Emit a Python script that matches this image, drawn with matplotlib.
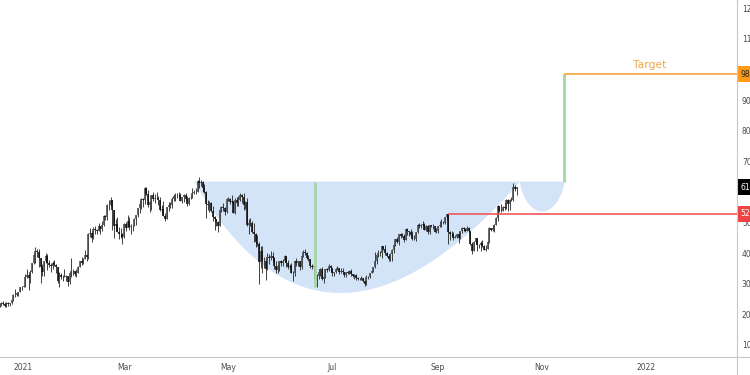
import numpy as np
import matplotlib
matplotlib.use("Agg")
import matplotlib.pyplot as plt
import matplotlib.dates as mdates
from matplotlib.transforms import blended_transform_factory
from matplotlib.lines import Line2D

# ---------------- data (BTC daily, values in thousands USD) ----------------
start_date = "2020-12-18"
first_open = 22.8

close_k = [
    23.15, 23.87, 23.48, 22.74, 23.82, 23.25, 23.73, 24.71, 26.49, 26.28, 27.08, 27.36, 28.84, 29.00,
    29.37, 32.13, 32.78, 31.97, 33.99, 36.82, 39.37, 40.80, 40.25, 38.35, 35.56, 33.92, 37.32, 39.19, 36.83, 36.18,
    35.79, 36.63, 36.07, 35.55, 30.83, 33.01, 32.10, 32.29, 32.37, 32.57, 30.43, 33.47, 34.32, 34.27, 33.11,
    33.52, 35.51, 37.47, 36.93, 38.14, 39.27, 38.83, 46.37, 46.48, 44.92, 47.91, 47.50, 47.17, 48.72,
    47.94, 49.20, 52.15, 51.68, 55.89, 55.89, 57.41, 54.09, 48.89, 49.68, 47.07, 46.28, 46.11, 45.14,
    49.63, 48.38, 50.54, 48.56, 48.93, 48.91, 51.21, 52.38, 54.88, 56.00, 57.77, 57.33, 61.24, 59.30, 55.90,
    56.80, 58.91, 57.65, 58.03, 58.10, 57.35, 54.08, 54.34, 52.30, 51.30, 55.00, 55.84, 55.78, 57.60, 58.76, 58.92,
    59.10, 59.00, 57.10, 58.20, 59.10, 57.60, 56.00, 58.10, 58.10, 59.80, 60.00, 59.90, 63.50, 62.97, 63.20,
    61.40, 60.10, 56.20, 55.70, 56.50, 53.80, 51.70, 51.10, 50.10, 49.00, 54.00, 55.00, 54.90, 53.60, 57.70,
    57.80, 56.60, 57.20, 53.20, 57.40, 56.40, 57.30, 58.90, 58.20, 55.80, 56.70, 49.20, 49.70, 49.90, 46.80,
    46.40, 43.60, 42.90, 37.00, 40.80, 37.30, 37.50, 34.70, 38.80, 38.30, 39.20, 38.50, 35.70, 34.60, 35.70, 37.30,
    36.70, 37.60, 39.20, 36.90, 35.50, 35.80, 33.60, 33.40, 37.40, 36.70, 37.30, 35.55, 39.10, 40.50, 40.15,
    38.35, 38.10, 35.80, 35.60, 35.70, 31.60, 32.50, 33.70, 34.70, 31.60, 32.30, 34.70, 34.50, 35.90, 35.00,
    33.50, 33.80, 34.70, 35.30, 33.70, 34.20, 33.90, 32.90, 33.80, 33.50, 34.30, 33.10, 32.70, 32.80, 31.80,
    31.40, 31.50, 31.80, 30.80, 29.80, 32.10, 32.30, 33.60, 34.30, 35.40, 37.30, 39.40, 39.90, 40.00, 42.20, 41.50,
    39.90, 39.20, 38.20, 39.70, 40.90, 42.80, 44.60, 43.80, 46.30, 45.60, 45.60, 44.40, 47.80, 47.10, 47.00,
    45.90, 44.70, 44.70, 46.80, 49.30, 48.90, 49.30, 49.50, 47.70, 48.90, 46.90, 49.10, 48.90, 48.80, 47.00, 47.10,
    48.80, 49.30, 50.00, 49.90, 51.80, 52.70, 46.90, 46.10, 46.40, 44.90, 45.20, 46.10, 44.90, 47.10, 48.20,
    47.80, 47.30, 48.30, 47.30, 43.00, 40.70, 43.60, 44.90, 42.80, 42.70, 43.20, 42.20, 41.00, 41.50, 43.80,
    48.10, 47.70, 48.20, 49.20, 51.50, 55.30, 53.80, 53.90, 55.00, 54.70, 57.50, 56.00, 57.40, 57.30, 61.70,
    60.90, 61.50,
]
high_k = [
    23.30, 24.10, 24.30, 24.10, 23.90, 24.10, 23.80, 24.80, 26.80, 28.40, 27.40, 27.40, 28.90, 29.30,
    29.60, 33.30, 34.80, 33.60, 34.40, 36.90, 40.20, 41.90, 41.40, 41.30, 38.30, 36.60, 37.60, 40.00, 39.70, 37.80,
    36.90, 37.30, 37.80, 36.40, 35.60, 33.80, 33.60, 32.90, 34.80, 32.80, 32.60, 33.80, 38.40, 34.80, 34.30,
    34.70, 35.90, 37.50, 38.60, 38.30, 40.90, 39.70, 46.50, 48.10, 47.30, 48.50, 48.90, 48.00, 49.70,
    49.00, 50.60, 52.60, 52.50, 56.20, 57.50, 58.30, 57.50, 54.20, 51.30, 51.90, 48.40, 48.30, 46.60,
    49.80, 50.10, 52.60, 51.80, 49.40, 49.20, 51.50, 52.40, 54.90, 57.20, 58.10, 58.00, 61.70, 61.60, 60.60,
    56.90, 58.90, 60.10, 59.40, 59.90, 58.60, 58.40, 55.80, 57.00, 53.10, 55.00, 56.60, 56.60, 58.40, 59.40, 59.80,
    59.50, 60.00, 59.80, 58.50, 59.30, 59.50, 58.70, 58.20, 58.90, 61.20, 60.70, 61.20, 63.80, 64.90, 63.80,
    63.50, 62.50, 60.40, 57.50, 57.00, 56.80, 55.40, 52.10, 51.20, 50.50, 54.40, 55.50, 56.40, 55.20, 57.90,
    58.40, 57.90, 58.90, 57.20, 57.90, 58.30, 58.60, 59.50, 59.20, 59.50, 57.00, 57.90, 51.30, 51.40, 50.60,
    49.70, 46.60, 45.80, 43.50, 42.50, 42.20, 38.80, 38.30, 39.90, 39.80, 40.80, 40.40, 38.90, 37.30, 36.40, 37.50,
    37.90, 38.20, 39.50, 39.20, 37.90, 36.40, 36.80, 34.10, 37.50, 38.40, 37.60, 37.40, 39.30, 41.00, 41.30,
    40.50, 39.50, 38.20, 36.40, 36.10, 35.80, 33.30, 34.80, 35.20, 35.50, 32.60, 34.70, 35.30, 36.60, 36.00,
    35.00, 33.90, 34.90, 35.90, 35.30, 35.00, 35.00, 33.90, 34.00, 34.20, 34.60, 34.70, 33.30, 33.10, 33.20,
    32.20, 31.90, 32.40, 31.80, 31.00, 32.80, 32.60, 33.60, 34.50, 35.40, 40.50, 39.50, 40.90, 40.60, 42.30, 42.40,
    42.60, 40.40, 39.80, 39.90, 41.40, 43.00, 44.70, 45.30, 46.40, 46.60, 46.70, 46.20, 47.90, 48.10, 47.40,
    48.00, 47.10, 46.00, 47.00, 49.40, 49.70, 49.50, 50.50, 49.80, 49.20, 49.30, 49.20, 49.30, 49.60, 48.90, 48.20,
    49.00, 50.40, 51.00, 50.50, 51.90, 52.80, 52.90, 47.30, 47.30, 47.00, 45.90, 46.40, 46.90, 47.30, 48.50,
    48.50, 48.20, 48.80, 48.40, 47.40, 43.60, 44.00, 44.90, 45.00, 42.90, 43.90, 44.40, 42.80, 42.60, 44.10,
    48.40, 48.30, 49.30, 49.50, 51.90, 55.70, 55.30, 56.10, 55.40, 56.50, 57.80, 57.60, 57.60, 58.50, 62.90,
    62.30, 61.70,
]
low_k = [
    22.40, 22.80, 23.10, 22.40, 22.40, 22.70, 22.80, 23.40, 24.50, 25.80, 26.10, 25.90, 27.30, 28.00,
    28.80, 29.00, 32.00, 28.10, 30.20, 33.50, 36.50, 36.80, 38.70, 35.50, 30.40, 32.50, 32.60, 36.70, 34.40, 35.40,
    33.90, 34.90, 35.80, 33.40, 30.10, 28.90, 31.40, 31.00, 32.10, 30.80, 29.20, 30.00, 32.10, 32.90, 32.40,
    32.30, 33.40, 35.40, 36.20, 36.60, 38.20, 37.40, 38.10, 45.20, 43.80, 44.50, 46.40, 46.30, 47.10,
    46.30, 47.10, 48.90, 50.90, 50.70, 54.00, 55.50, 47.70, 45.00, 47.10, 47.00, 44.50, 45.10, 43.00,
    45.10, 47.10, 48.40, 47.60, 46.30, 47.10, 48.90, 49.30, 51.90, 53.10, 54.30, 55.00, 56.10, 59.10, 55.00,
    53.60, 54.20, 57.00, 56.30, 57.90, 55.60, 53.70, 53.00, 52.00, 50.40, 51.30, 53.90, 54.70, 54.90, 57.00, 57.00,
    58.00, 58.50, 57.00, 56.50, 56.80, 57.30, 55.50, 55.80, 57.80, 58.00, 59.30, 59.40, 59.90, 61.30, 62.00,
    60.00, 59.80, 51.50, 54.20, 53.40, 53.60, 50.60, 47.50, 48.80, 47.00, 48.80, 53.30, 53.90, 52.40, 53.10,
    57.00, 56.10, 56.50, 53.00, 52.90, 55.30, 55.40, 56.90, 56.30, 54.00, 54.30, 48.80, 46.30, 48.90, 46.60,
    43.80, 42.00, 42.30, 30.00, 35.00, 33.50, 35.30, 31.10, 34.40, 36.40, 37.80, 37.20, 34.70, 33.60, 33.40, 34.20,
    35.70, 35.90, 37.20, 35.60, 34.80, 35.30, 33.40, 31.00, 32.40, 35.80, 35.90, 34.60, 34.80, 38.70, 39.50,
    38.10, 37.40, 35.20, 34.80, 33.30, 31.30, 28.80, 31.70, 32.40, 31.30, 30.20, 32.00, 33.90, 34.30, 34.00,
    32.70, 32.70, 33.40, 34.40, 33.20, 33.50, 33.80, 32.10, 32.30, 33.10, 33.30, 32.70, 32.30, 31.60, 31.20,
    31.10, 31.20, 31.10, 30.50, 29.30, 29.50, 31.70, 31.90, 33.40, 33.90, 35.30, 36.40, 38.80, 39.20, 38.30, 41.00,
    39.40, 38.70, 37.60, 37.50, 37.30, 39.90, 42.50, 43.40, 42.80, 45.10, 45.30, 43.80, 44.30, 45.90, 45.60,
    45.60, 44.40, 44.20, 43.90, 46.60, 48.30, 48.10, 49.00, 47.60, 47.20, 46.40, 46.40, 48.40, 48.00, 46.90, 46.70,
    46.50, 48.60, 48.40, 49.50, 49.50, 50.90, 43.00, 44.40, 45.50, 44.20, 44.80, 44.80, 43.40, 44.70, 46.70,
    47.10, 46.80, 47.10, 46.90, 42.60, 39.60, 40.60, 43.10, 40.80, 41.70, 40.80, 42.10, 40.90, 40.80, 41.40,
    43.30, 47.40, 47.20, 46.90, 49.10, 50.40, 53.40, 53.60, 53.70, 54.10, 54.40, 53.90, 54.20, 56.90, 56.90,
    60.20, 58.90,
]

# price lines / annotations (USD)
y_ticks = [10000, 20000, 30000, 40000, 50000, 60000, 70000, 80000, 90000, 100000, 110000, 120000]
x_tick_dates = ["2021-01-01", "2021-03-01", "2021-05-01", "2021-07-01", "2021-09-01", "2021-11-01", "2022-01-01"]
x_tick_labels = ["2021", "Mar", "May", "Jul", "Sep", "Nov", "2022"]

cup_left, cup_ctrl_date, cup_right = "2021-04-11", "2021-06-26", "2021-10-19"
cup_rim, cup_ctrl_price = 63400, -9400
handle_end, handle_bottom = "2021-11-14", 53600
depth_line_date, depth_low = "2021-06-21", 28800
target_date, target_price = "2021-11-14", 98500
resistance_date, resistance_price = "2021-09-07", 52900
target_text_date, target_text_price = "2022-01-03", 101500

# ---------------- figure ----------------
W, H = 750, 375
fig = plt.figure(figsize=(W / 100, H / 100), dpi=100)
ax_bottom_px, ax_right_px = 357, 737
ax = fig.add_axes([0, (H - ax_bottom_px) / H, ax_right_px / W, ax_bottom_px / H])

d2n = lambda s: mdates.date2num(np.datetime64(s))

close = np.array(close_k) * 1000
high = np.array(high_k) * 1000
low = np.array(low_k) * 1000
opn = np.concatenate([[first_open * 1000], close[:-1]])
dates = np.datetime64(start_date) + np.arange(len(close))
xd = mdates.date2num(dates)

# axis limits
px_per_day = 1.706
jan1 = d2n("2021-01-01")
x0 = jan1 - 23.5 / px_per_day
x1 = x0 + ax_right_px / px_per_day
ax.set_xlim(x0, x1)
px_per_usd = 0.003061
ax.set_ylim(10000 - (ax_bottom_px - 345) / px_per_usd, 10000 + 345 / px_per_usd)

# cup (quadratic bezier) fill
t = np.linspace(0, 1, 200)
P0 = np.array([d2n(cup_left), cup_rim])
P1 = np.array([d2n(cup_ctrl_date), cup_ctrl_price])
P2 = np.array([d2n(cup_right), cup_rim])
bx = (1 - t) ** 2 * P0[0] + 2 * t * (1 - t) * P1[0] + t ** 2 * P2[0]
by = (1 - t) ** 2 * P0[1] + 2 * t * (1 - t) * P1[1] + t ** 2 * P2[1]
fill_col = "#d3e3f8"
ax.fill(np.r_[bx, bx[0]], np.r_[by, by[0]], color=fill_col, lw=0, zorder=1)

# handle (rounded U)
hx0, hx1 = d2n(cup_right), d2n(handle_end)
th = np.linspace(0, np.pi, 100)
hcx, hrx = (hx0 + hx1) / 2, (hx1 - hx0) / 2
hx = hcx - hrx * np.cos(th)
hy = cup_rim - (cup_rim - handle_bottom) * np.sin(th) ** 1.3
ax.fill(hx, hy, color=fill_col, lw=0, zorder=1)

# candles
up = close >= opn
body_lo = np.minimum(opn, close)
body_hi = np.maximum(opn, close)
ax.vlines(xd, low, high, color="#222222", lw=0.6, zorder=3)
ax.vlines(xd[up], body_lo[up], body_hi[up], color="#4a4a4a", lw=1.15, zorder=4)
ax.vlines(xd[~up], body_lo[~up], body_hi[~up], color="#0d0d0d", lw=1.15, zorder=4)

# green measuring lines
green = "#a3d6a4"
ax.plot([d2n(depth_line_date)] * 2, [cup_rim, depth_low], color=green, lw=2.0, zorder=5, solid_capstyle="butt")
ax.plot([d2n(target_date)] * 2, [cup_rim, target_price], color=green, lw=2.0, zorder=5, solid_capstyle="butt")

# target line
orange = "#f4a63c"
ax.plot([d2n(target_date), x1], [target_price] * 2, color=orange, lw=1.2, zorder=5, solid_capstyle="butt")
ax.text(d2n(target_text_date), target_text_price, "Target", color="#f0a640", fontsize=7.7,
        ha="center", va="center", zorder=6)

# resistance line
red = "#ee4b4b"
ax.plot([d2n(resistance_date), x1], [resistance_price] * 2, color=red, lw=1.1, zorder=5, solid_capstyle="butt")

# axes styling
for s in ax.spines.values():
    s.set_visible(False)
ax.yaxis.tick_right()
ax.set_yticks(y_ticks)
ax.set_yticklabels([f"{v:.2f}" for v in y_ticks])
ax.set_xticks([d2n(d) for d in x_tick_dates])
ax.set_xticklabels(x_tick_labels)
ax.tick_params(axis="both", length=0, labelsize=5.5, labelcolor="#4a4a4a")
ax.tick_params(axis="y", pad=3.5)
ax.tick_params(axis="x", pad=4)

# price labels on axis
tr = blended_transform_factory(ax.transAxes, ax.transData)
box_x = 1.0 + 3.0 / ax_right_px
for price, fc, tc in [(target_price, "#ff9a1a", "#222222"),
                      (close[-1], "#000000", "#ffffff"),
                      (resistance_price, "#f04444", "#ffffff")]:
    ax.text(box_x, price, f"{price:.2f}", transform=tr, fontsize=5.5, color=tc,
            ha="left", va="center", clip_on=False, zorder=10,
            bbox=dict(boxstyle="square,pad=0.45", fc=fc, ec="none"))

# frame lines
fig.add_artist(Line2D([0, 1], [(H - ax_bottom_px) / H] * 2, transform=fig.transFigure, color="#c8c8c8", lw=0.8))
fig.add_artist(Line2D([ax_right_px / W] * 2, [0, 1], transform=fig.transFigure, color="#c8c8c8", lw=0.8))

fig.savefig("out.png", dpi=100)
